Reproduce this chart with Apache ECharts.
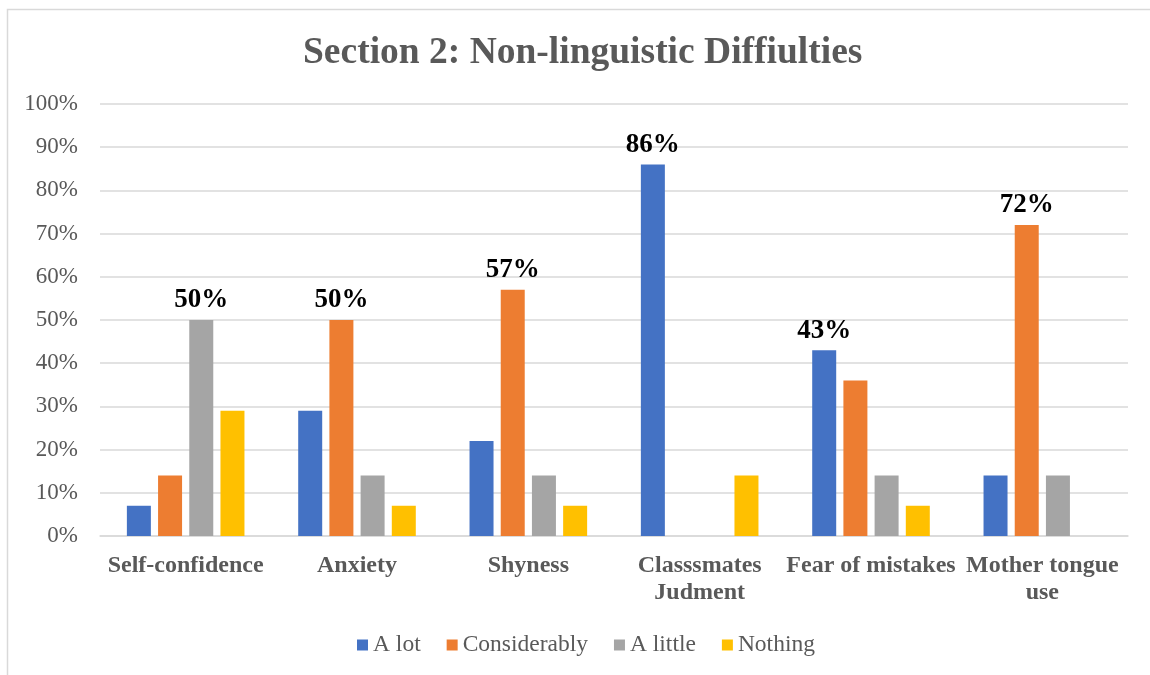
<!DOCTYPE html>
<html><head><meta charset="utf-8">
<script src="https://cdn.jsdelivr.net/npm/echarts@6/dist/echarts.min.js"></script>
<style>html,body{margin:0;padding:0;background:#fff;}#c{width:1150px;height:675px;}</style>
</head><body><div id="c"></div>
<script>
const categories = ['Self-confidence', 'Anxiety', 'Shyness', 'Classsmates\nJudment', 'Fear of mistakes', 'Mother tongue\nuse'];
const seriesNames = ['A lot', 'Considerably', 'A little', 'Nothing'];
const aLot = [7, 29, 22, 86, 43, 14];
const considerably = [14, 50, 57, 0, 36, 72];
const aLittle = [50, 14, 14, 0, 14, 14];
const nothing = [29, 7, 7, 14, 7, 0];
const yTicks = [0, 10, 20, 30, 40, 50, 60, 70, 80, 90, 100];

const allSeries = [aLot, considerably, aLittle, nothing];
const colors = ['#4472C4', '#ED7D31', '#A5A5A5', '#FFC000'];
const catMax = categories.map((_, i) => Math.max(...allSeries.map(s => s[i])));
const serif = '"Liberation Serif","Times New Roman",serif';

const chart = echarts.init(document.getElementById('c'));
chart.setOption({
  animation: false,
  graphic: [{
    type: 'rect', left: 5, top: 7,
    shape: { width: 1200, height: 720 },
    style: { fill: 'none', stroke: '#d9d9d9', lineWidth: 1.5 }, silent: true, z: -1
  }],
  title: {
    text: 'Section 2: Non-linguistic Diffiulties',
    left: 298, top: 29,
    textStyle: { fontFamily: serif, fontSize: 37.5, fontWeight: 'bold', color: '#595959' }
  },
  legend: {
    data: seriesNames, top: 628, left: 352,
    itemWidth: 11, itemHeight: 11, itemGap: 26,
    icon: 'rect',
    textStyle: { fontFamily: serif, fontSize: 23.5, color: '#595959' }
  },
  grid: { left: 100, right: 22, top: 104, bottom: 139, containLabel: false },
  xAxis: {
    type: 'category', data: categories,
    axisLine: { lineStyle: { color: '#d9d9d9', width: 1.5 } },
    axisTick: { show: false },
    axisLabel: { fontFamily: serif, fontSize: 24, fontWeight: 'bold', color: '#595959', margin: 16, lineHeight: 27, interval: 0 }
  },
  yAxis: {
    type: 'value', min: 0, max: 100, interval: 10,
    axisLine: { show: false }, axisTick: { show: false },
    splitLine: { lineStyle: { color: '#d9d9d9', width: 1.5 } },
    axisLabel: { fontFamily: serif, fontSize: 23, color: '#595959', margin: 22, formatter: v => v + '%' }
  },
  series: allSeries.map((vals, si) => ({
    name: seriesNames[si], type: 'bar',
    barWidth: 24, barGap: '30%',
    itemStyle: { color: colors[si] },
    data: vals.map((v, i) => ({
      value: v,
      label: {
        show: v === catMax[i], position: 'top', distance: 6,
        formatter: '{c}%', fontFamily: serif, fontSize: 27, fontWeight: 'bold', color: '#000'
      }
    }))
  }))
});
</script></body></html>
